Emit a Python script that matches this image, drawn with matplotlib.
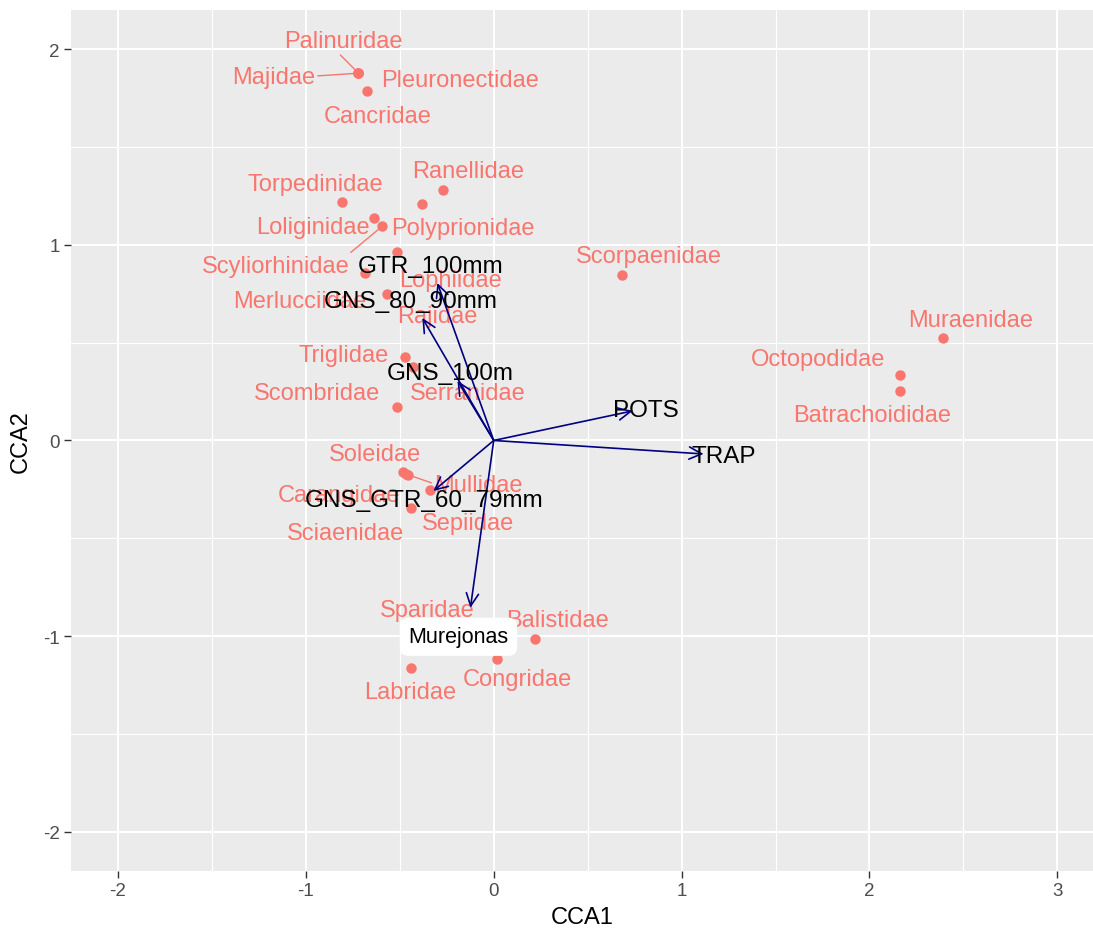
import matplotlib
matplotlib.use("Agg")
import matplotlib.pyplot as plt

plt.rcParams['font.family'] = ['Liberation Sans', 'DejaVu Sans']
plt.rcParams['axes.unicode_minus'] = False

# species scores (CCA1, CCA2)
species = ["Palinuridae", "Majidae", "Pleuronectidae", "Cancridae", "Torpedinidae",
           "Ranellidae", "Polyprionidae", "Loliginidae", "Scyliorhinidae", "Lophiidae",
           "Merlucciidae", "Rajidae", "Scorpaenidae", "Muraenidae", "Octopodidae",
           "Batrachoididae", "Triglidae", "Serranidae", "Scombridae", "Soleidae",
           "Carangidae", "Sciaenidae", "Mullidae", "Sepiidae", "Sparidae",
           "Balistidae", "Congridae", "Labridae"]
cca1 = [-0.72, -0.72, -0.72, -0.674, -0.807,
        -0.269, -0.380, -0.635, -0.593, -0.514,
        -0.568, -0.684, 0.685, 2.389, 2.160,
        2.160, -0.470, -0.428, -0.513, -0.481,
        -0.337, -0.465, -0.454, -0.439, -0.102,
        0.218, 0.020, -0.438]
cca2 = [1.877, 1.877, 1.877, 1.787, 1.217,
        1.278, 1.208, 1.136, 1.095, 0.963,
        0.748, 0.856, 0.845, 0.524, 0.335,
        0.253, 0.427, 0.376, 0.171, -0.161,
        -0.253, -0.170, -0.176, -0.345, -0.97,
        -1.014, -1.116, -1.162]

# biplot arrows (gear types)
gears = ["GTR_100mm", "GNS_80_90mm", "GNS_100m", "GNS_GTR_60_79mm", "POTS", "TRAP", "Murejonas"]
gear_x = [-0.30, -0.38, -0.193, -0.321, 0.739, 1.117, -0.124]
gear_y = [0.805, 0.626, 0.305, -0.258, 0.151, -0.069, -0.855]

# label placement (pixel offsets from point, like ggrepel output)
label_offsets = [(-15, 32), (-85, -4), (102, -7), (11, -25), (-27, 18),
                 (25, 19), (41, -24), (-62, -9), (-107, -40), (53, -28),
                 (-87, -7), (72, -43), (26, 19), (28, 18), (-81, 16),
                 (-27, -24), (-62, 2), (54, -26), (-80, 14), (-28, 18),
                 (-91, -5), (-61, -59), (70, -10), (57, -15), (-47, 20),
                 (23, 19), (20, -20), (-1, -24)]
# segments: label name -> anchor on the label box
segments = {"Palinuridae": (0.45, 0.0), "Majidae": (1.0, 0.55),
            "Scyliorhinidae": (0.97, 0.9), "Mullidae": (0.0, 0.55)}
gear_offsets = [(-7, 17), (-12, 17), (-7, 8), (-9, -9), (13, 1), (20, -2), (-12, -29)]

pink = "#F8766D"

fig = plt.figure(figsize=(10.93, 9.37), dpi=100)
ax = fig.add_axes([0.065, 0.0694, 0.935, 0.9189])
ax.set_facecolor("#EBEBEB")
ax.set_xlim(-2.25, 3.19)
ax.set_ylim(-2.2, 2.2)

ax.set_xticks([-2, -1, 0, 1, 2, 3])
ax.set_yticks([-2, -1, 0, 1, 2])
ax.set_xticks([-1.5, -0.5, 0.5, 1.5, 2.5], minor=True)
ax.set_yticks([-1.5, -0.5, 0.5, 1.5], minor=True)
ax.grid(which="major", color="white", lw=1.5)
ax.grid(which="minor", color="white", lw=0.8)
ax.set_axisbelow(True)
for s in ax.spines.values():
    s.set_visible(False)
ax.tick_params(which="major", length=5, width=1, color="#333333",
               labelsize=13.5, labelcolor="#4D4D4D", pad=3)
ax.tick_params(which="minor", length=0)
ax.set_xlabel("CCA1", fontsize=17, labelpad=5)
ax.set_ylabel("CCA2", fontsize=17, labelpad=8)

ax.plot(cca1, cca2, "o", color=pink, ms=6.5, zorder=3)

for name, x, y, off in zip(species, cca1, cca2, label_offsets):
    kw = {}
    if name in segments:
        kw["arrowprops"] = dict(arrowstyle="-", color=pink, lw=1.0, shrinkA=0, shrinkB=3,
                                relpos=segments[name])
    ax.annotate(name, (x, y), xytext=off, textcoords="offset pixels",
                ha="center", va="center", color=pink, fontsize=17, zorder=4, **kw)

for name, x, y, off in zip(gears, gear_x, gear_y, gear_offsets):
    ax.annotate("", xy=(x, y), xytext=(0, 0),
                arrowprops=dict(arrowstyle="->,head_length=0.45,head_width=0.22",
                                color="#000080", lw=1.2, shrinkA=0, shrinkB=0,
                                mutation_scale=20), zorder=5)
for name, x, y, off in zip(gears, gear_x, gear_y, gear_offsets):
    if name == "Murejonas":
        ax.annotate(name, (x, y), xytext=off, textcoords="offset pixels",
                    ha="center", va="center", color="black", fontsize=15.5, zorder=7,
                    bbox=dict(boxstyle="round,pad=0.4", fc="white", ec="none"))
    else:
        ax.annotate(name, (x, y), xytext=off, textcoords="offset pixels",
                    ha="center", va="center", color="black", fontsize=17.5, zorder=6)

fig.savefig("out.png", dpi=100)
